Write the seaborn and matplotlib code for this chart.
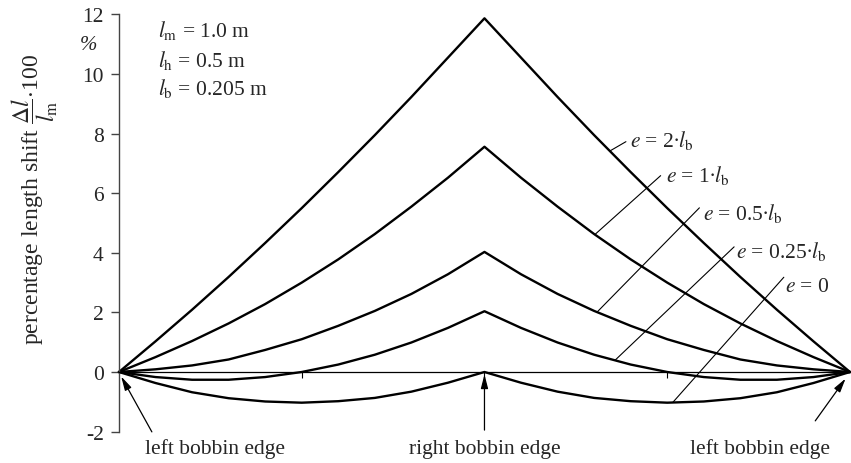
import numpy as np
import pandas as pd
import matplotlib
matplotlib.use("Agg")
import matplotlib.pyplot as plt
import seaborn as sns

# traverse position in half strokes: 0 = left bobbin edge, 1 = right edge, 2 = left edge
stroke_pos = [0.0, 0.1, 0.2, 0.3, 0.4, 0.5, 0.6, 0.7, 0.8, 0.9, 1.0,
              1.1, 1.2, 1.3, 1.4, 1.5, 1.6, 1.7, 1.8, 1.9, 2.0]

# percentage length shift (Δl / l_m · 100) for each eccentricity e
shift_e_2lb = [0.0, 1.03, 2.09, 3.19, 4.33, 5.50, 6.71, 7.95, 9.23, 10.55, 11.87,
               10.55, 9.23, 7.95, 6.71, 5.50, 4.33, 3.19, 2.09, 1.03, 0.0]
shift_e_1lb = [0.0, 0.50, 1.04, 1.63, 2.28, 3.00, 3.78, 4.63, 5.55, 6.52, 7.56,
               6.52, 5.55, 4.63, 3.78, 3.00, 2.28, 1.63, 1.04, 0.50, 0.0]
shift_e_05lb = [0.0, 0.09, 0.22, 0.42, 0.74, 1.10, 1.55, 2.05, 2.62, 3.28, 4.03,
                3.28, 2.62, 2.05, 1.55, 1.10, 0.74, 0.42, 0.22, 0.09, 0.0]
shift_e_025lb = [0.0, -0.17, -0.26, -0.26, -0.17, 0.0, 0.25, 0.58, 0.99, 1.48, 2.04,
                 1.48, 0.99, 0.58, 0.25, 0.0, -0.17, -0.26, -0.26, -0.17, 0.0]
shift_e_0 = [0.0, -0.37, -0.68, -0.88, -0.99, -1.03, -0.98, -0.87, -0.66, -0.36, 0.0,
             -0.36, -0.66, -0.87, -0.98, -1.03, -0.99, -0.88, -0.68, -0.37, 0.0]

series_names = ["e2", "e1", "e05", "e025", "e0"]
series_values = [shift_e_2lb, shift_e_1lb, shift_e_05lb, shift_e_025lb, shift_e_0]
series_labels = [r"$e$ = 2∙$l_\mathrm{b}$",
                 r"$e$ = 1∙$l_\mathrm{b}$",
                 r"$e$ = 0.5∙$l_\mathrm{b}$",
                 r"$e$ = 0.25∙$l_\mathrm{b}$",
                 r"$e$ = 0"]

y_ticks = [-2, 0, 2, 4, 6, 8, 10, 12]

sns.set_theme(style="white")
plt.rcParams["font.family"] = ["Liberation Serif", "DejaVu Serif"]
plt.rcParams["mathtext.fontset"] = "stix"
plt.rcParams["axes.unicode_minus"] = False

TXT = 15.5

frames = [pd.DataFrame({"pos": stroke_pos, "shift": vals, "curve": name})
          for name, vals in zip(series_names, series_values)]
df = pd.concat(frames, ignore_index=True)

fig = plt.figure(figsize=(8.51, 4.64), dpi=100)
ax = fig.add_axes([0.1398, 0.0677, 0.859, 0.899])

sns.lineplot(data=df, x="pos", y="shift", hue="curve", hue_order=series_names,
             palette=["black"] * 5, estimator=None, sort=False, legend=False,
             linewidth=1.7, ax=ax)
for line in ax.lines:
    line.set_solid_joinstyle("round")
    line.set_clip_on(False)

ax.set_xlim(0, 2)
ax.set_ylim(-2, 12)
ax.set_xlabel("")
ax.set_ylabel("")

# y axis on the left, zero line as the x axis
ax.spines["top"].set_visible(False)
ax.spines["right"].set_visible(False)
ax.spines["left"].set_color("#444444")
ax.spines["left"].set_linewidth(1.0)
ax.spines["bottom"].set_position(("data", 0))
ax.spines["bottom"].set_color("black")
ax.spines["bottom"].set_linewidth(0.9)
ax.set_yticks(y_ticks)
ax.set_yticklabels([str(t) for t in y_ticks])
ax.set_xticks([0.5, 1.0, 1.5])
ax.set_xticklabels([])
ax.tick_params(axis="y", direction="out", length=6, width=1.0, color="#444444",
               pad=5, labelsize=15.5, left=True)
ax.tick_params(axis="x", direction="out", length=4, width=0.8, color="black", bottom=True)

# unit label between the top tick labels
ax.annotate("%", xy=(0, 11.0), xycoords=("axes fraction", "data"),
            xytext=(-16, 0), textcoords="offset points",
            ha="right", va="center", fontsize=15, style="italic")

fig.text(35 / 851, 1 - 200 / 464,
         r"percentage length shift $\dfrac{\mathit{\Delta l}}{l_\mathrm{m}}$$\cdot$100",
         rotation=90, ha="center", va="center", fontsize=17)

# parameter block
params = [r"$l_\mathrm{m}$ = 1.0 m", r"$l_\mathrm{h}$ = 0.5 m", r"$l_\mathrm{b}$ = 0.205 m"]
param_y = [11.28, 10.27, 9.33]
for txt, yv in zip(params, param_y):
    ax.text(0.106, yv, txt, ha="left", va="baseline", fontsize=TXT)

# curve labels with leader lines
leader_anchor = [1.343, 1.302, 1.308, 1.357, 1.515]
leader_end = [(1.387, 7.73), (1.482, 6.59), (1.588, 5.51), (1.683, 4.20), (1.819, 3.18)]
label_pos = [(1.398, 7.58), (1.496, 6.42), (1.597, 5.14), (1.687, 3.86), (1.823, 2.73)]
for vals, lab, xa, le, lp in zip(series_values, series_labels, leader_anchor,
                                 leader_end, label_pos):
    ya = float(np.interp(xa, stroke_pos, vals))
    ax.annotate("", xy=(xa, ya), xytext=le,
                arrowprops=dict(arrowstyle="-", lw=0.8, color="black",
                                shrinkA=0, shrinkB=0))
    ax.text(lp[0], lp[1], lab, ha="left", va="baseline", fontsize=TXT)

# bobbin edge markers
edge_text = ["left bobbin edge", "right bobbin edge", "left bobbin edge"]
edge_text_x = [0.264, 1.0, 1.753]
edge_tip = [(0.006, -0.15), (1.0, -0.08), (1.988, -0.22)]
edge_tail = [(0.09, -2.01), (1.0, -1.95), (1.905, -1.64)]
for txt, tx, tip, tail in zip(edge_text, edge_text_x, edge_tip, edge_tail):
    ax.annotate("", xy=tip, xytext=tail, annotation_clip=False,
                arrowprops=dict(arrowstyle="-|>,head_length=0.7,head_width=0.18",
                                lw=0.9, color="black", shrinkA=0, shrinkB=0))
    ax.text(tx, -2.72, txt, ha="center", va="baseline", fontsize=TXT, clip_on=False)

fig.savefig("out.png", dpi=100)
